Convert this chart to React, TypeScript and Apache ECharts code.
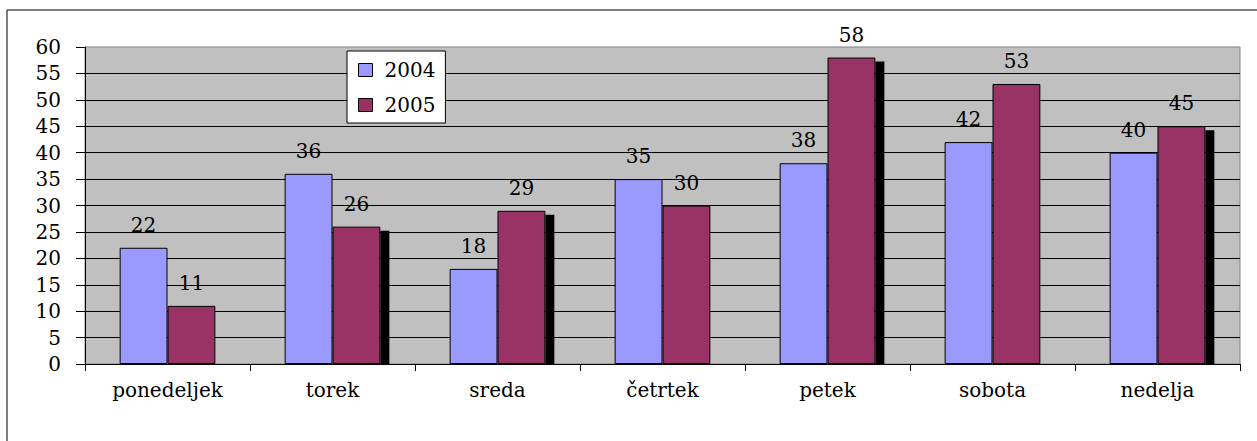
import React, { useEffect, useRef } from "react";
import * as echarts from "echarts";

const categories = ["ponedeljek", "torek", "sreda", "četrtek", "petek", "sobota", "nedelja"];
const values2004 = [22, 36, 18, 35, 38, 42, 40];
const values2005 = [11, 26, 29, 30, 58, 53, 45];
const shadow2005 = [false, true, true, false, true, false, true];
const seriesNames = ["2004", "2005"];

const FONT = "DejaVu Serif, serif";
const FS = 20;
const GAP_RATIO = 0.42;

export default function App() {
  const ref = useRef<HTMLDivElement>(null);
  useEffect(() => {
    if (!ref.current) return;
    const chart = echarts.init(ref.current, null, { renderer: "svg" });
    const shadowData = categories
      .map((_, i) => (shadow2005[i] ? [i, values2005[i]] : null))
      .filter((d) => d !== null);
    const labelStyle = {
      show: true,
      position: "top",
      distance: 13,
      color: "#000",
      fontSize: FS,
      fontFamily: FONT,
    };
    chart.setOption({
      animation: false,
      backgroundColor: "#fff",
      textStyle: { fontFamily: FONT, color: "#000" },
      graphic: [
        {
          type: "rect",
          shape: { x: 7, y: 10, width: 1300, height: 500 },
          style: { fill: "none", stroke: "#000", lineWidth: 1 },
          z: 100,
          silent: true,
        },
      ],
      legend: {
        data: seriesNames,
        orient: "vertical",
        left: 347,
        top: 51,
        backgroundColor: "#fff",
        borderColor: "#000",
        borderWidth: 1,
        padding: [8, 10, 7, 11],
        itemWidth: 14,
        itemHeight: 13,
        itemGap: 13,
        icon: "rect",
        itemStyle: { borderColor: "#000", borderWidth: 1 },
        textStyle: { fontSize: FS, fontFamily: FONT, color: "#000", lineHeight: 22, padding: [0, 0, 0, 7] },
      },
      grid: {
        left: 85,
        top: 47,
        width: 1155,
        height: 317,
        show: true,
        backgroundColor: "#C0C0C0",
        borderColor: "#808080",
        borderWidth: 1,
      },
      xAxis: {
        type: "category",
        data: categories,
        axisLine: { lineStyle: { color: "#000", width: 1 } },
        axisTick: { show: true, length: 7, lineStyle: { color: "#000" } },
        axisLabel: { color: "#000", fontSize: FS, fontFamily: FONT, margin: 16 },
      },
      yAxis: {
        type: "value",
        min: 0,
        max: 60,
        interval: 5,
        axisLine: { show: true, lineStyle: { color: "#000", width: 1 } },
        axisTick: { show: true, length: 9, lineStyle: { color: "#000" } },
        axisLabel: { color: "#000", fontSize: FS, fontFamily: FONT, margin: 24 },
        splitLine: { show: true, showMaxLine: false, lineStyle: { color: "#000", width: 1 } },
      },
      series: [
        {
          name: seriesNames[0],
          type: "bar",
          data: values2004,
          barGap: "0%",
          barCategoryGap: GAP_RATIO * 100 + "%",
          itemStyle: { color: "#9999FF", borderColor: "#000", borderWidth: 1 },
          label: labelStyle,
        },
        {
          name: seriesNames[1],
          type: "bar",
          data: values2005,
          barGap: "0%",
          barCategoryGap: GAP_RATIO * 100 + "%",
          itemStyle: { color: "#993366", borderColor: "#000", borderWidth: 1 },
          label: labelStyle,
        },
        {
          name: "shadow",
          type: "custom",
          data: shadowData,
          encode: { x: 0, y: 1 },
          silent: true,
          z: 1,
          renderItem: (params: any, api: any) => {
            const idx = api.value(0);
            const v = api.value(1);
            const top = api.coord([idx, v]);
            const base = api.coord([idx, 0]);
            const catW = api.size([1, 0])[0];
            const barW = (catW * (1 - GAP_RATIO)) / 2;
            const x = top[0] + barW;
            return {
              type: "rect",
              shape: { x: x, y: top[1] + 4, width: 9, height: base[1] - top[1] - 4 },
              style: { fill: "#000" },
            };
          },
        },
      ],
    });
    return () => chart.dispose();
  }, []);
  return (
    <div
      ref={ref}
      style={{ position: "absolute", left: 0, top: 0, width: 1257, height: 441, background: "#fff" }}
    />
  );
}
